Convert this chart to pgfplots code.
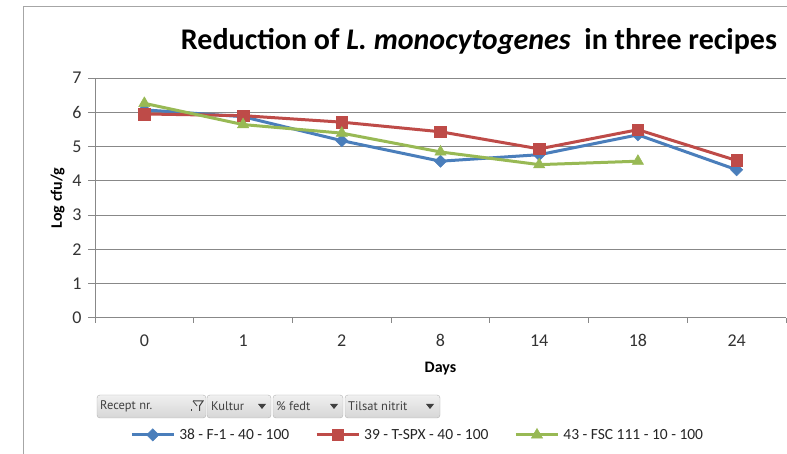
\documentclass[border=0pt]{standalone}
\usepackage{pgfplots}
\pgfplotsset{compat=1.18}
\usepackage{fontspec}
\setmainfont{Carlito}
\newfontfamily\btnfont{PT Sans}
\definecolor{sblue}{HTML}{4A7EBB}
\definecolor{sred}{HTML}{BE4B48}
\definecolor{sgreen}{HTML}{98B954}
\definecolor{gridc}{HTML}{888888}
\definecolor{btnborder}{HTML}{B4B4B4}
\begin{document}
\begin{tikzpicture}[x=1pt,y=1pt]
\useasboundingbox (0,0) rectangle (787,454);
\fill[white] (0,0) rectangle (787,454);
\draw[gray!70,line width=1pt] (23,0) -- (23,447) -- (787,447);
\node[font=\fontsize{30}{34}\selectfont\bfseries] at (479,413) {Reduction of \textit{L. monocytogenes}\ \ in three recipes};
\begin{axis}[
  at={(95pt,136.3pt)}, anchor=south west,
  scale only axis, width=691pt, height=239.7pt,
  xmin=-0.5, xmax=6.5, ymin=0, ymax=7,
  axis lines=left, axis line style={-,gridc,line width=0.8pt},
  xtick={0,...,6}, xticklabels={0,1,2,8,14,18,24},
  major x tick style={draw=none},
  minor xtick={-0.5,0.5,...,6.5},
  minor x tick style={gridc,line width=0.8pt},
  minor tick length=5pt,
  ytick={0,...,7},
  major y tick style={gridc,line width=0.8pt},
  major tick length=7pt,
  tick align=outside,
  ymajorgrids, grid style={gridc,line width=0.8pt},
  /pgf/number format/assume math mode=true,
  tick label style={font=\fontsize{18}{21}\selectfont, text=black!80},
  yticklabel style={xshift=-3pt},
  xticklabel style={anchor=north, text height=12pt, text depth=0pt, yshift=-6pt},
  xlabel={Days}, ylabel={Log cfu/g},
  label style={font=\fontsize{16}{19}\selectfont\bfseries},
  xlabel style={yshift=-9pt},
  ylabel style={yshift=1pt},
  legend style={draw=none, at={(0.467,-0.489)}, anchor=center, legend columns=3,
    font=\fontsize{15.5}{18}\selectfont, text=black!85,
    /tikz/every odd column/.append style={column sep=2pt},
    /tikz/every even column/.append style={column sep=24pt}},
  legend image code/.code={\draw[mark repeat=2,mark phase=2,#1] plot coordinates {(0pt,0pt) (21pt,0pt) (42pt,0pt)};},
]
\addplot[sblue, line width=3pt, mark=square*, mark size=4.3pt, mark options={rotate=45, fill=sblue, draw=sblue, line width=0.5pt}]
  coordinates {(0,6.07) (1,5.87) (2,5.17) (3,4.57) (4,4.76) (5,5.34) (6,4.32)};
\addlegendentry{38 - F-1 - 40 - 100}
\addplot[sred, line width=3pt, mark=square*, mark size=5.8pt, mark options={fill=sred, draw=sred, line width=0.5pt}]
  coordinates {(0,5.95) (1,5.9) (2,5.71) (3,5.43) (4,4.93) (5,5.49) (6,4.59)};
\addlegendentry{39 - T-SPX - 40 - 100}
\addplot[sgreen, line width=3pt, mark=triangle*, mark size=6.5pt, mark options={fill=sgreen, draw=sgreen, line width=0.5pt}]
  coordinates {(0,6.26) (1,5.64) (2,5.39) (3,4.84) (4,4.47) (5,4.57)};
\addlegendentry{43 - FSC 111 - 10 - 100}
\end{axis}
% field buttons
\begin{scope}[every node/.style={font=\btnfont\fontsize{12.5}{14}\selectfont, text=black!75, anchor=west, inner sep=0pt}]
\foreach \a/\b in {97/206, 207/271, 273/343, 345/440}{
  \shade[top color=gray!12, bottom color=gray!32, draw=btnborder, rounded corners=3pt] (\a,36) rectangle (\b,59);
}
\node at (100,47.5) {Recept nr.};
\node at (211,47.5) {Kultur};
\node at (276,47.5) {\% fedt};
\node at (348,47.5) {Tilsat nitrit};
\foreach \x in {262, 334, 430}{
  \fill[black!75] (\x-4,50) -- (\x+4,50) -- (\x,45) -- cycle;
}
% filter icon
\draw[black!75, line width=1pt] (193,53) -- (203,53) -- (199.5,48) -- (199.5,43);
\draw[black!75, line width=0.8pt] (193,53) -- (197,48);
\fill[black!75] (190.5,43) rectangle (192,44.5);
\end{scope}
\end{tikzpicture}
\end{document}
